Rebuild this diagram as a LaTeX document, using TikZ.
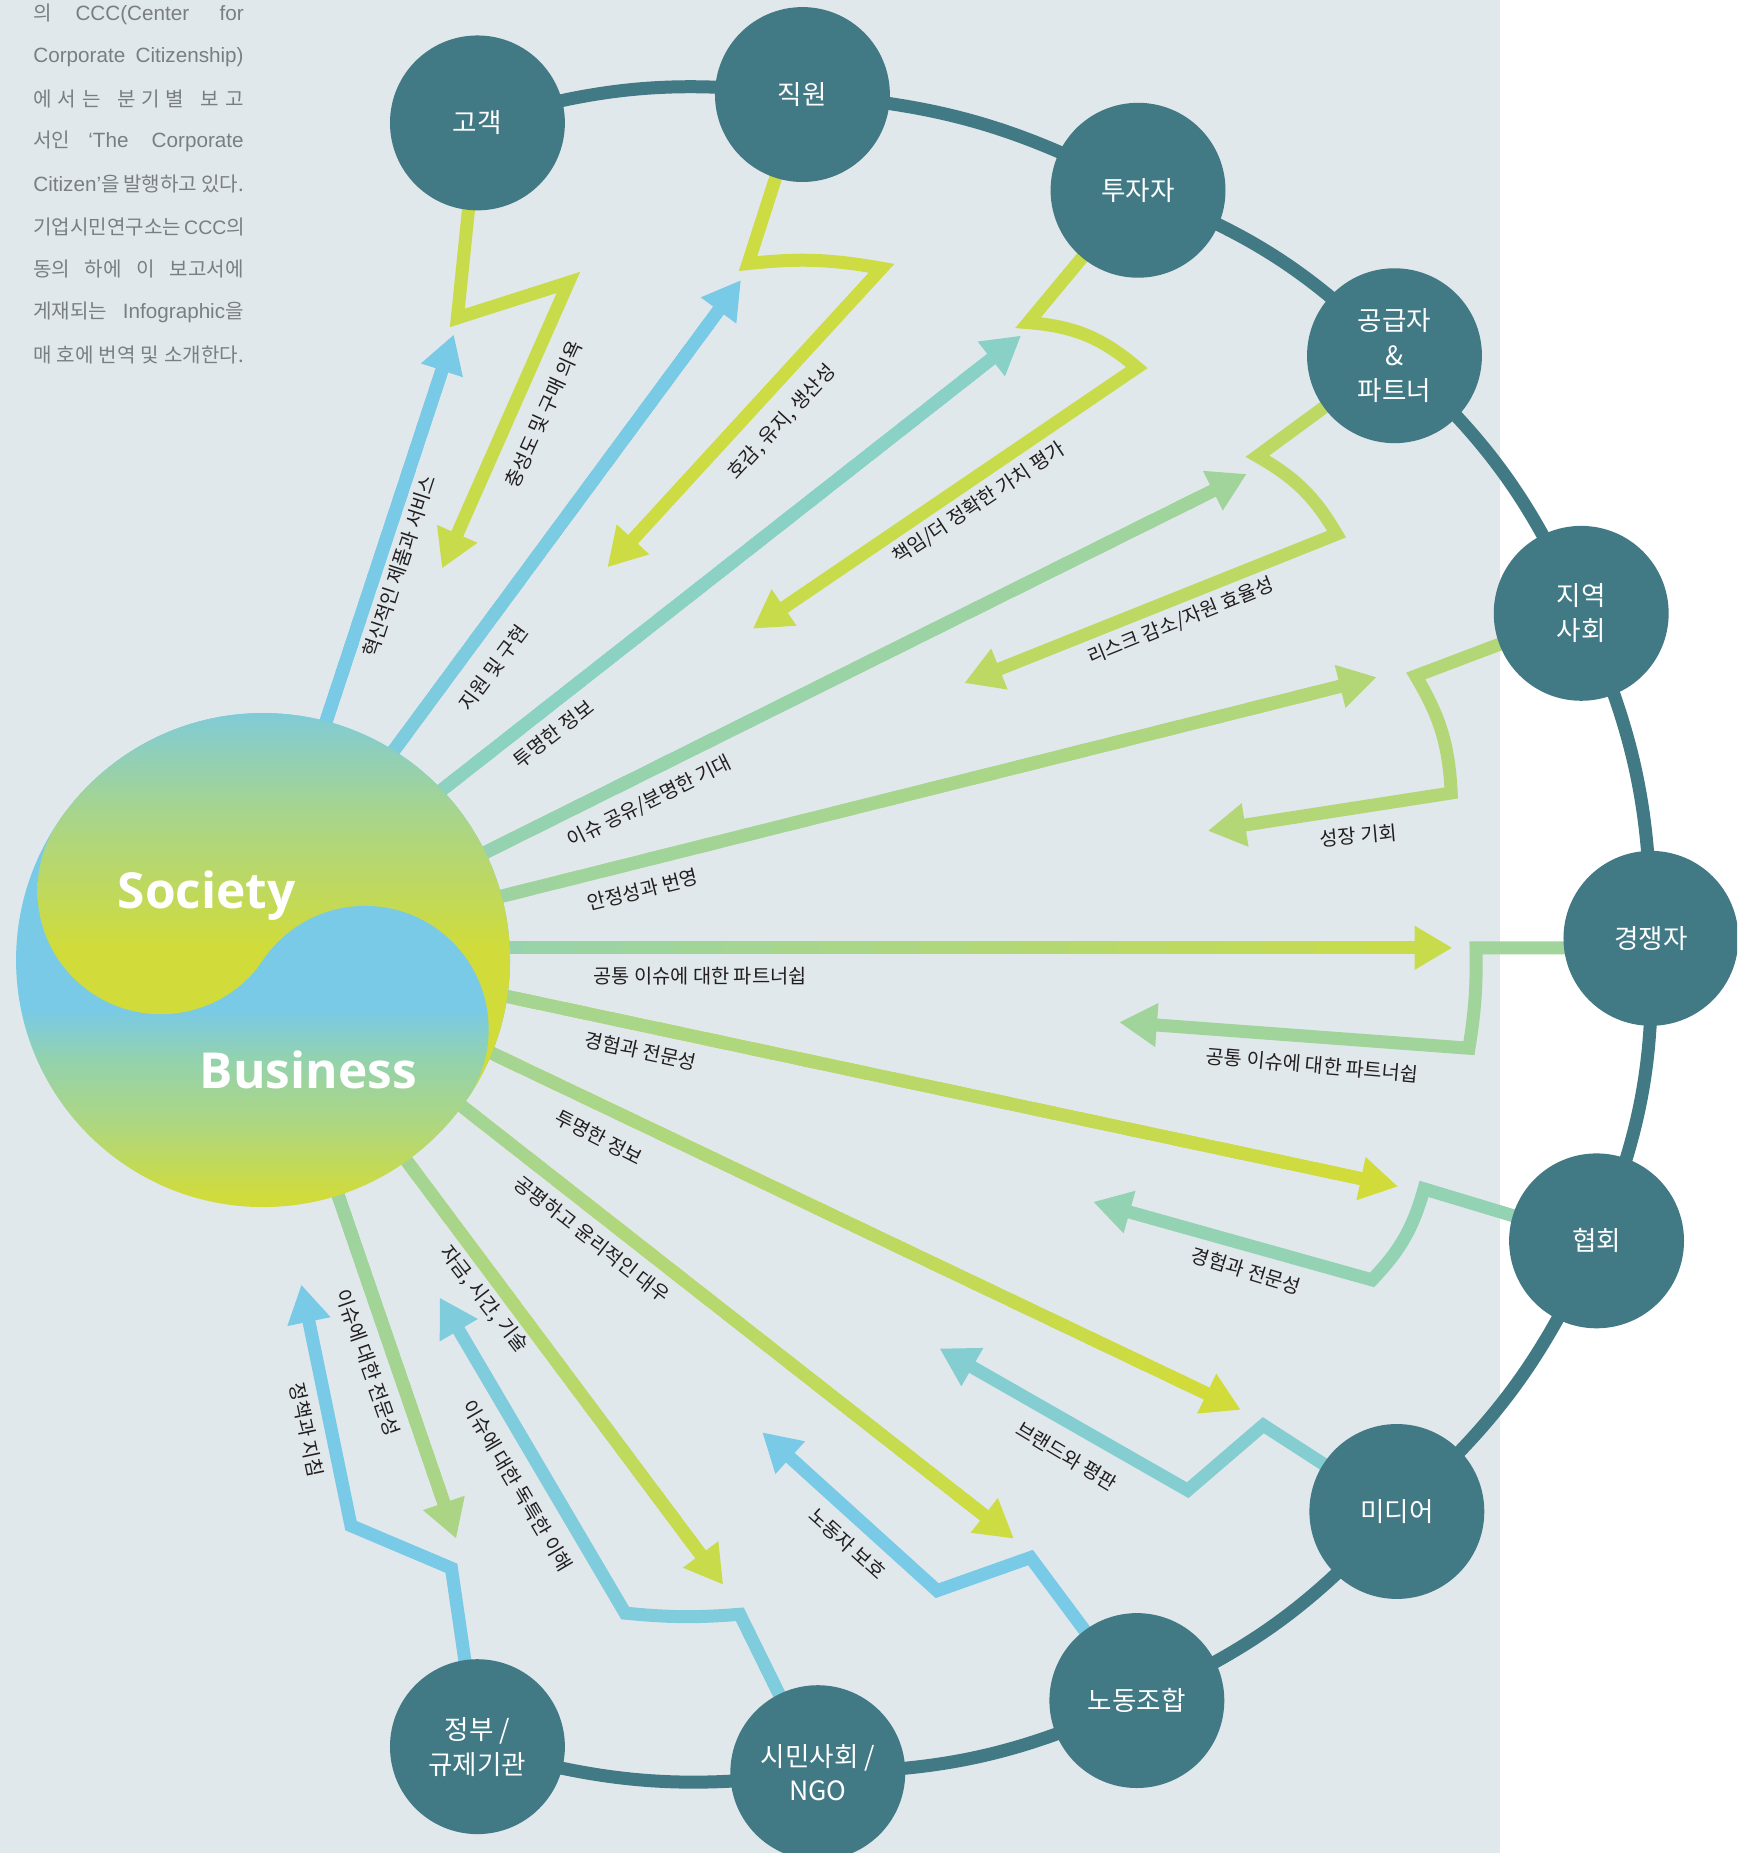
\documentclass[tikz,border=0pt]{standalone}
\usepackage{fontspec}
\setmainfont{Noto Sans CJK KR}
\newfontfamily\headfont{Open Sans}
\newfontfamily\notelatin{Liberation Sans}
\usetikzlibrary{arrows.meta,calc}

% palette
\definecolor{panel}{HTML}{E1E8EC}
\definecolor{hub}{HTML}{417985}
\definecolor{greytext}{HTML}{7A7E81}
\definecolor{labeltext}{HTML}{231F20}
\definecolor{cBlue}{HTML}{78CAE6}
\definecolor{cSky}{HTML}{7ECCDC}
\definecolor{cTeal}{HTML}{89D1C7}
\definecolor{cMint}{HTML}{8DD2C0}
\definecolor{cSea}{HTML}{93D2B3}
\definecolor{cPale}{HTML}{9BD3A4}
\definecolor{cGreen}{HTML}{A0D49B}
\definecolor{cOlive}{HTML}{ABD585}
\definecolor{cLeaf}{HTML}{B3D777}
\definecolor{cMoss}{HTML}{BDD964}
\definecolor{cLime}{HTML}{C8DB4A}
\definecolor{cLemon}{HTML}{CCDC42}
\definecolor{cYel}{HTML}{D1DC3A}
\definecolor{cAqua}{HTML}{84CED1}
\definecolor{cTop}{HTML}{80CBD7}
\definecolor{cMid}{HTML}{A8D58B}
\definecolor{bizA}{HTML}{B0D77D}
\definecolor{bizB}{HTML}{93D2AE}

% vertical blends for the two halves of the central disc
\pgfdeclareverticalshading{societyshade}{100bp}{color(0bp)=(cYel); color(45bp)=(cYel); color(62bp)=(cMid); color(75bp)=(cTop); color(100bp)=(cTop)}
\pgfdeclareverticalshading{businessshade}{100bp}{color(0bp)=(cYel); color(26bp)=(cYel); color(33bp)=(bizA); color(40bp)=(bizB); color(45bp)=(cBlue); color(100bp)=(cBlue)}

\pgfdeclarelayer{paper}
\pgfdeclarelayer{links}
\pgfsetlayers{paper,links,main}

\tikzset{
  stake/.style={circle, fill=hub, minimum size=148pt, inner sep=0pt, text=white,
    align=center, font=\fontsize{22.5}{29.5}\selectfont},
  ring/.style={draw=hub, line width=11pt},
  flow/.style={line width=11pt, -{Triangle[length=32pt,width=35pt]}},
  flowpart/.style={line width=11pt},
  back/.style={line width=11pt, line join=miter, -{Triangle[length=32pt,width=35pt]}},
  lbl/.style={text=labeltext, inner sep=0pt, font=\fontsize{16.7}{19}\selectfont},
  note/.style={text=greytext, anchor=west, inner sep=0pt, font=\fontsize{17}{19}\selectfont},
  hubtext/.style={text=white, inner sep=0pt, anchor=base, font=\headfont\bfseries\fontsize{42}{46}\selectfont},
}
\newcommand\nl{\notelatin\fontsize{17.5}{18}\selectfont}
\newcommand\nls{\notelatin\fontsize{16.5}{18}\selectfont}
\newcommand\lsp{\kern5pt}

% straight arrow whose colour blends from #3 at the start to #4 at the tip
\newcommand\outflow[4]{%
  \draw[flow, draw=#4] (#1) -- (#2);
  \path ($(#2)!32pt!(#1)$) coordinate (hb);
  \foreach \k in {0,...,19}{%
    \pgfmathsetmacro\ta{\k/20}%
    \pgfmathsetmacro\tb{min((\k+1.5)/20,1)}%
    \pgfmathsetmacro\mx{100-\k*100/19}%
    \draw[flowpart, draw={#3!\mx!#4}] ($(#1)!\ta!(hb)$) -- ($(#1)!\tb!(hb)$);
  }%
}

\begin{document}
\begin{tikzpicture}[x=1pt, y=-1pt]
\useasboundingbox (0,0) rectangle (1470,1568);
\clip (0,0) rectangle (1470,1568);

\begin{pgfonlayer}{paper}
  \fill[white] (0,0) rectangle (1470,1568);
  \fill[panel] (0,0) rectangle (1269,1568);
\end{pgfonlayer}

% side note
\node[note] (n1) at (28,12)  {\makebox[178pt][s]{의 {\nl CCC(Center for}}};
\node[note] (n2) at (28,48)  {\makebox[178pt][s]{{\nl Corporate Citizenship)}}};
\node[note] (n3) at (28,84)  {\makebox[178pt][s]{에\lsp 서\lsp 는\hfill 분\lsp 기\lsp 별\hfill 보\lsp 고}};
\node[note] (n4) at (28,120) {\makebox[178pt][s]{서인 {\nl ‘The Corporate}}};
\node[note] (n5) at (28,156) {\makebox[178pt][s]{{\nl Citizen’}을 발행하고 있다.}};
\node[note] (n6) at (28,192) {\makebox[178pt][s]{기업시민연구소는 {\nls CCC}의}};
\node[note] (n7) at (28,228) {\makebox[178pt][s]{동의 하에 이 보고서에}};
\node[note] (n8) at (28,264) {\makebox[178pt][s]{게재되는 {\nl Infographic}을}};
\node[note] (n9) at (28,300) {\makebox[178pt][s]{매 호에 번역 및 소개한다.}};

% stakeholders
\node[stake] (cust) at (404,104)  {고객};
\node[stake] (empl) at (679,80)   {직원};
\node[stake] (inve) at (963,161)  {투자자};
\node[stake] (supp) at (1180,301) {공급자\\\&\\파트너};
\node[stake] (comm) at (1338,519) {지역\\사회};
\node[stake] (comp) at (1397,794) {경쟁자};
\node[stake] (asso) at (1351,1050) {협회};
\node[stake] (medi) at (1182,1279) {미디어};
\node[stake] (unio) at (962,1439) {노동조합};
\node[stake] (ngo)  at (692,1500) {시민사회 /\\NGO};
\node[stake] (gov)  at (404,1478) {정부 /\\규제기관};

% arrow end points
\coordinate (o1s) at (253,680);  \coordinate (o1t) at (384,283);
\coordinate (o2s) at (289,695);  \coordinate (o2t) at (627,237);
\coordinate (o3s) at (326,706);  \coordinate (o3t) at (864,284);
\coordinate (o4s) at (351,751);  \coordinate (o4t) at (1055,401);
\coordinate (o5s) at (354,776);  \coordinate (o5t) at (1165,573);
\coordinate (o6s) at (360,802);  \coordinate (o6t) at (1229,802);
\coordinate (o7s) at (358,828);  \coordinate (o7t) at (1183,1004);
\coordinate (o8s) at (357,863);  \coordinate (o8t) at (1050,1193);
\coordinate (o9s) at (350,904);  \coordinate (o9t) at (858,1302);
\coordinate (o10s) at (320,950); \coordinate (o10t) at (612,1341);
\coordinate (o11s) at (276,982); \coordinate (o11t) at (386,1302);

\begin{pgfonlayer}{links}
  % outer ring
  \foreach \a/\b in {cust/empl, empl/inve, inve/supp, supp/comm, comm/comp,
                     comp/asso, asso/medi, medi/unio, unio/ngo, ngo/gov}
    \draw[ring] (\a.center) to[bend left=12] (\b.center);

  % replies from the stakeholders
  \draw[back, draw=cLime]  (cust.center) -- (387,269) -- (481,239) -- (374,481);
  \draw[back, draw=cLemon] (empl.center) -- (633,223) to[bend left=8] (746,227) -- (514,480);
  \draw[back, draw=cLime]  (inve.center) -- (870,273) to[bend left=18] (962,311) -- (637,532);
  \draw[back, draw=cMoss]  (supp.center) -- (1064,386) to[bend left=15] (1131,452) -- (816,578);
  \draw[back, draw=cLeaf]  (comm.center) -- (1198,572) to[bend left=14] (1228,671) -- (1022,703);
  \draw[back, draw=cGreen] ([yshift=-8pt]comp.center) -- (1249,802) to[bend left=5] (1243,887) -- (947,865);
  \draw[back, draw=cSea]   (asso.center) -- (1205,1006) to[bend left=14] (1161,1083) -- (925,1017);
  \draw[back, draw=cAqua]  (medi.center) -- (1069,1206) -- (1005,1261) -- (795,1141);
  \draw[back, draw=cBlue]  (unio.center) -- (872,1318) -- (793,1346) -- (645,1212);
  \draw[back, draw=cSky]   (ngo.center) -- (626,1366) to[bend left=5] (529,1365) -- (372,1098);
  \draw[back, draw=cBlue]  (gov.center) -- (382,1327) -- (297,1291) -- (255,1087);

  % offers from the business
  \outflow{o1s}{o1t}{cBlue}{cBlue}
  \outflow{o2s}{o2t}{cSky}{cBlue}
  \outflow{o3s}{o3t}{cMint}{cTeal}
  \outflow{o4s}{o4t}{cSea}{cGreen}
  \outflow{o5s}{o5t}{cPale}{cLeaf}
  \outflow{o6s}{o6t}{cSea}{cLime}
  \outflow{o7s}{o7t}{cGreen}{cYel}
  \outflow{o8s}{o8t}{cGreen}{cYel}
  \outflow{o9s}{o9t}{cGreen}{cLemon}
  \outflow{o10s}{o10t}{cGreen}{cLime}
  \outflow{o11s}{o11t}{cPale}{cOlive}
\end{pgfonlayer}

% central disc: society / business
\coordinate (hubc) at (222.6,812.4);
\shade[shading=businessshade] (hubc) circle (209pt);
\begin{scope}
  \clip (hubc) circle (209pt);
  \clip (470.7,981.0) -- (639.3,732.9) -- (143.1,395.7) -- (-25.5,643.8) -- cycle;
  \shade[shading=societyshade] (13,603) rectangle (432,935);
\end{scope}
\begin{scope}
  \clip (136.2,753.7) circle (104.5pt);
  \shade[shading=societyshade] (13,603) rectangle (432,935);
\end{scope}
\begin{scope}
  \clip (309.0,871.1) circle (104.5pt);
  \shade[shading=businessshade] (13.6,603.4) rectangle (431.6,1021.4);
\end{scope}
\node[hubtext] (soc) at (175,769) {Society};
\node[hubtext] (bus) at (261,921) {Business};

% labels
\node[lbl, rotate=71.8]  (t1)  at (338,479)    {혁신적인 제품과 서비스};
\node[lbl, rotate=65.6]  (t1b) at (460,350.6)  {충성도 및 구매 의욕};
\node[lbl, rotate=53.5]  (t2)  at (417.7,565.2) {지원 및 구현};
\node[lbl, rotate=47.2]  (t2b) at (661.6,357.3) {호감, 유지, 생산성};
\node[lbl, rotate=38]    (t3)  at (468.2,621.1) {투명한 정보};
\node[lbl, rotate=33.6]  (t3b) at (828.3,425.9) {책임/더 정확한 가치 평가};
\node[lbl, rotate=26.4]  (t4)  at (549.8,678.6) {이슈 공유/분명한 기대};
\node[lbl, rotate=22]    (t4b) at (999,525.6)   {리스크 감소/자원 효율성};
\node[lbl, rotate=14]    (t5)  at (543.8,753.2) {안정성과 번영};
\node[lbl, rotate=5]     (t5b) at (1149.3,707)  {성장 기회};
\node[lbl]               (t6)  at (592.4,825.8) {공통 이슈에 대한 파트너쉽};
\node[lbl, rotate=-5]    (t6b) at (1110.6,901.3) {공통 이슈에 대한 파트너쉽};
\node[lbl, rotate=-12]   (t7)  at (542.2,889.2) {경험과 전문성};
\node[lbl, rotate=-17]   (t7b) at (1054.5,1075.3) {경험과 전문성};
\node[lbl, rotate=-27]   (t8)  at (506.7,962.5) {투명한 정보};
\node[lbl, rotate=-31]   (t8b) at (902.6,1232)  {브랜드와 평판};
\node[lbl, rotate=-38]   (t9)  at (501,1048.6)  {공평하고 윤리적인 대우};
\node[lbl, rotate=-42]   (t9b) at (717,1306)    {노동자 보호};
\node[lbl, rotate=-52]   (t10) at (409.3,1099.4) {자금, 시간, 기술};
\node[lbl, rotate=-59.5] (t10b) at (438,1257.4) {이슈에 대한 독특한 이해};
\node[lbl, rotate=-70.7] (t11) at (311.6,1153)  {이슈에 대한 전문성};
\node[lbl, rotate=-78]   (t11b) at (259.6,1210) {정책과 지침};
\end{tikzpicture}
\end{document}
